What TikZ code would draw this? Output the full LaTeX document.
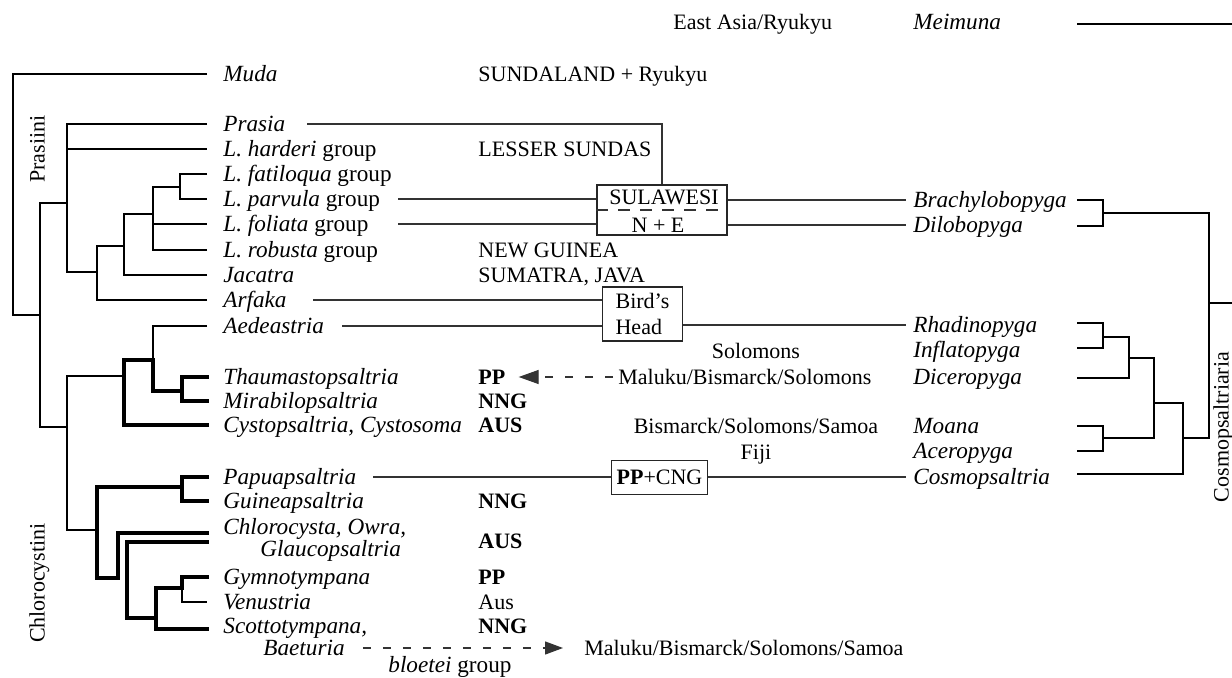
\documentclass[tikz,border=0pt]{standalone}
\usepackage{fontspec}
\setmainfont{Liberation Serif}
\usetikzlibrary{arrows.meta}

\tikzset{
	taxon/.style={anchor=west, inner sep=0pt, text height=10pt, text depth=2.3pt, font=\fontsize{11.6}{13}\selectfont\itshape},
	area/.style={anchor=west, inner sep=0pt, text height=10pt, text depth=2.3pt, font=\fontsize{11}{13}\selectfont},
	areabold/.style={area, font=\fontsize{11}{13}\selectfont\bfseries},
	areamid/.style={area, anchor=center},
	clade/.style={rotate=90, inner sep=0pt, text height=10pt, text depth=2.3pt, font=\fontsize{11}{13}\selectfont},
	branch/.style={line width=1pt},
	heavy/.style={line width=2pt, line cap=rect},
	rbranch/.style={line width=1.2pt},
	link/.style={line width=0.65pt, draw=black!80},
	dashlink/.style={link, dash pattern=on 4pt off 6pt},
	regionbox/.style={draw=black!85, line width=0.65pt, inner sep=0pt, font=\fontsize{11}{13}\selectfont},
}

\begin{document}
\begin{tikzpicture}[x=0.5pt, y=-0.5pt]
		%%%%% START %%%%%
		\useasboundingbox (0,0) rectangle (1232,678);
		
		% clade names
		\node[clade] (prasiini) at (37,149) {Prasiini};
		\node[clade] (chlorocystini) at (37,583) {Chlorocystini};
		\node[clade] (cosmopsaltriaria) at (1221,427) {Cosmopsaltriaria};
		
		% left taxa
		\node[taxon] (muda) at (223,74) {Muda};
		\node[taxon] (prasia) at (223,124) {Prasia};
		\node[taxon] (harderi) at (223,149) {L. harderi \textup{group}};
		\node[taxon] (fatiloqua) at (223,174) {L. fatiloqua \textup{group}};
		\node[taxon] (parvula) at (223,199) {L. parvula \textup{group}};
		\node[taxon] (foliata) at (223,224) {L. foliata \textup{group}};
		\node[taxon] (robusta) at (223,250) {L. robusta \textup{group}};
		\node[taxon] (jacatra) at (223,275) {Jacatra};
		\node[taxon] (arfaka) at (223,300) {Arfaka};
		\node[taxon] (aedeastria) at (223,326) {Aedeastria};
		\node[taxon] (thaum) at (223,377) {Thaumastopsaltria};
		\node[taxon] (mirab) at (223,401) {Mirabilopsaltria};
		\node[taxon] (cysto) at (223,425) {Cystopsaltria, Cystosoma};
		\node[taxon] (papua) at (223,477) {Papuapsaltria};
		\node[taxon] (guinea) at (223,501) {Guineapsaltria};
		\node[taxon] (chloro) at (223,527) {Chlorocysta, Owra,};
		\node[taxon] (glauco) at (260,549) {Glaucopsaltria};
		\node[taxon] (gymno) at (223,577) {Gymnotympana};
		\node[taxon] (venus) at (223,602) {Venustria};
		\node[taxon] (scotto) at (223,626) {Scottotympana,};
		\node[taxon] (baeturia) at (263,648) {Baeturia};
		\node[taxon] (bloetei) at (388,665) {bloetei \textup{group}};
		
		% right taxa
		\node[taxon] (meimuna) at (913,22) {Meimuna};
		\node[taxon] (brachy) at (913,200) {Brachylobopyga};
		\node[taxon] (dilo) at (913,225) {Dilobopyga};
		\node[taxon] (rhadino) at (913,325) {Rhadinopyga};
		\node[taxon] (inflato) at (913,350) {Inflatopyga};
		\node[taxon] (dicero) at (913,377) {Diceropyga};
		\node[taxon] (moana) at (913,426) {Moana};
		\node[taxon] (acero) at (913,451) {Aceropyga};
		\node[taxon] (cosmo) at (913,477) {Cosmopsaltria};
		
		% areas
		\node[area] (eastasia) at (673,22) {East Asia/Ryukyu};
		\node[area] (sunda) at (478,74) {SUNDALAND + Ryukyu};
		\node[area] (lesser) at (478,149) {LESSER SUNDAS};
		\node[area] (newguinea) at (478,250) {NEW GUINEA};
		\node[area] (sumjava) at (478,275) {SUMATRA, JAVA};
		\node[areamid] (solomons) at (756,351) {Solomons};
		\node[area] (maluku1) at (618,377) {Maluku/Bismarck/Solomons};
		\node[areamid] (bismarck) at (756,426) {Bismarck/Solomons/Samoa};
		\node[areamid] (fiji) at (756,452) {Fiji};
		\node[area] (maluku2) at (584,648) {Maluku/Bismarck/Solomons/Samoa};
		
		\node[areabold] (pp1) at (478,377) {PP};
		\node[areabold] (nng1) at (478,401) {NNG};
		\node[areabold] (aus1) at (478,425) {AUS};
		\node[areabold] (nng2) at (478,501) {NNG};
		\node[areabold] (aus2) at (478,541) {AUS};
		\node[areabold] (pp2) at (478,577) {PP};
		\node[area] (aus3) at (478,602) {Aus};
		\node[areabold] (nng3) at (478,626) {NNG};
		
		% boxes
		\node[regionbox, minimum width=65pt, minimum height=25pt] (sula) at (662,210) {};
		\draw[link, dash pattern=on 6pt off 5pt] (sula.west) -- (sula.east);
		\node[areamid] (sulaN) at (664,197) {SULAWESI};
		\node[areamid] (sulaE) at (658,225) {N + E};
		\node[regionbox, minimum width=40pt, minimum height=27pt, align=left] (birdshead) at (642.5,314) {Bird's\\Head};
		\node[regionbox, minimum width=47.8pt, minimum height=16.7pt] (ppcng) at (659.5,477.5) {\textbf{PP}+CNG};
		
		% links to the areas
		\draw[link] (prasia -| 307,0) -| (sula.north);
		\draw[link] (parvula -| 398,0) -- (sula.west |- parvula);
		\draw[link] (foliata -| 398,0) -- (sula.west |- foliata);
		\draw[link] (sula.east |- brachy) -- ([xshift=-3.5pt]brachy.west);
		\draw[link] (sula.east |- dilo) -- ([xshift=-3.5pt]dilo.west);
		\draw[link] (arfaka -| 313,0) -- (birdshead.west |- arfaka);
		\draw[link] (aedeastria -| 342,0) -- (birdshead.west |- aedeastria);
		\draw[link] (birdshead.east |- rhadino) -- ([xshift=-3.5pt]rhadino.west);
		\draw[link] (papua -| 373,0) -- (ppcng.west |- papua);
		\draw[link] (ppcng.east |- cosmo) -- ([xshift=-3.5pt]cosmo.west);
		
		\draw[dashlink, -{Triangle[length=10pt, width=7pt]}, shorten <=2.5pt, shorten >=6.5pt] (maluku1.west) -- (pp1.east);
		\draw[dashlink, -{Triangle[length=9pt, width=6.5pt]}, shorten <=9pt, shorten >=10.5pt] (baeturia.east) -- (maluku2.west);
		
		% left tree, Prasiini
		\draw[branch] (207,74) -| (13,315) -- (40,315);
		\draw[branch] (67,203) -| (40,427) -- (67,427);
		\draw[branch] (207,124) -| (67,272) -- (97,272);
		\draw[branch] (67,149) -- (207,149);
		\draw[branch] (207,300) -| (97,246) -- (124,246);
		\draw[branch] (207,275) -| (124,214) -- (153,214);
		\draw[branch] (207,250) -| (153,187) -- (180,187);
		\draw[branch] (153,224) -- (207,224);
		\draw[branch] (207,174) -| (180,199) -- (207,199);
		
		% left tree, Chlorocystini
		\draw[branch] (124,376) -| (67,530) -- (97,530);
		\draw[heavy] (153,360) -| (124,425) -- (207,425);
		\draw[branch] (207,326) -| (153,360);
		\draw[heavy] (153,360) |- (182,391);
		\draw[heavy] (207,377) -| (182,401) -- (207,401);
		\draw[heavy] (207,477) -| (182,501) -- (207,501);
		\draw[heavy] (182,487) -| (97,578) -- (118,578);
		\draw[heavy] (207,533) -| (118,578);
		\draw[heavy] (207,542) -| (127,618) -- (156,618);
		\draw[heavy] (182,588) -| (156,629) -- (207,629);
		\draw[heavy] (207,577) -| (182,588);
		\draw[branch] (182,588) |- (207,602);
		
		% right tree
		\draw[rbranch] (1077,24) -- (1232,24);
		\draw[rbranch] (1077,200) -| (1103,226) -- (1077,226);
		\draw[rbranch] (1103,213) -| (1209,438) -- (1183,438);
		\draw[rbranch] (1209,303) -- (1232,303);
		\draw[rbranch] (1077,323) -| (1103,348) -- (1077,348);
		\draw[rbranch] (1103,337) -| (1129,378) -- (1077,378);
		\draw[rbranch] (1129,358) -| (1154,438) -- (1103,438);
		\draw[rbranch] (1077,426) -| (1103,451) -- (1077,451);
		\draw[rbranch] (1154,403) -| (1183,474) -- (1077,474);
		
		%%%%% END %%%%%
\end{tikzpicture}
\end{document}
